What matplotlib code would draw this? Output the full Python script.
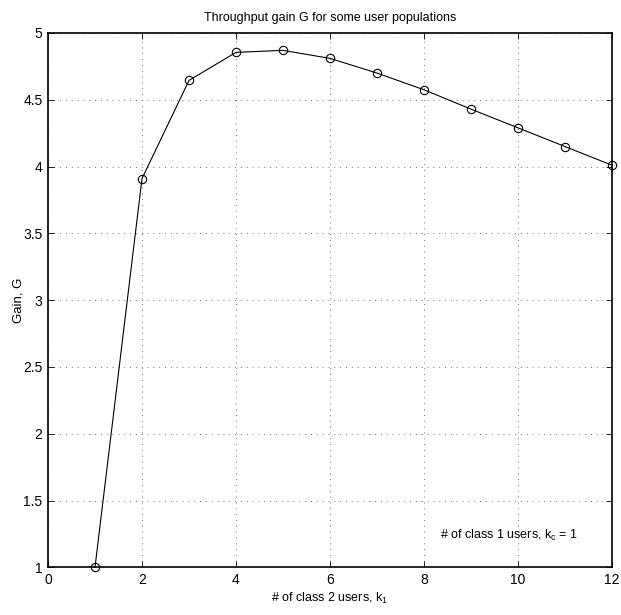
import matplotlib
matplotlib.use("Agg")
import matplotlib.pyplot as plt

# users of class 2 (k1) and the measured throughput gain
k1 = [1, 2, 3, 4, 5, 6, 7, 8, 9, 10, 11, 12]
gain = [1.0, 3.91, 4.645, 4.855, 4.87, 4.81, 4.70, 4.575, 4.43, 4.29, 4.15, 4.01]

x_ticks = [0, 2, 4, 6, 8, 10, 12]
y_ticks = [1, 1.5, 2, 2.5, 3, 3.5, 4, 4.5, 5]

plt.rcParams['font.family'] = ['Liberation Sans', 'DejaVu Sans']
plt.rcParams['mathtext.fontset'] = 'custom'
plt.rcParams['mathtext.rm'] = 'Liberation Sans'
plt.rcParams['mathtext.it'] = 'Liberation Sans'

fig = plt.figure(figsize=(6.21, 6.15), dpi=100)
ax = fig.add_axes([48 / 621, 1 - 567.3 / 615, (612 - 48) / 621, (567.3 - 33) / 615])

ax.plot(k1, gain, color='black', linewidth=0.8, marker='o', markersize=6,
        markerfacecolor='none', markeredgecolor='black', markeredgewidth=0.8,
        clip_on=False, zorder=3)

ax.set_xlim(0, 12)
ax.set_ylim(1, 5)
ax.set_xticks(x_ticks)
ax.set_yticks(y_ticks)
ax.set_xticklabels([str(t) for t in x_ticks])
ax.set_yticklabels(['1', '1.5', '2', '2.5', '3', '3.5', '4', '4.5', '5'])
ax.tick_params(direction='in', top=True, right=True, labelsize=10, length=4, width=0.6, pad=4)
ax.grid(True, linestyle=(0, (1, 6)), color='#444444', linewidth=0.6)
for s in ax.spines.values():
    s.set_linewidth(1.2)

ax.set_title('Throughput gain G for some user populations', fontsize=9, pad=9)
ax.set_xlabel(r'# of class 2 users, $\mathregular{k_1}$', fontsize=9, labelpad=3)
ax.set_ylabel('Gain, G', fontsize=9.5)
ax.yaxis.set_label_coords(-23 / 564, 0.5)
ax.text(8.34, 1.24, r'# of class 1 users, $\mathregular{k_c}$ = 1', fontsize=9,
        ha='left', va='center')

fig.savefig('out.png', dpi=100)
